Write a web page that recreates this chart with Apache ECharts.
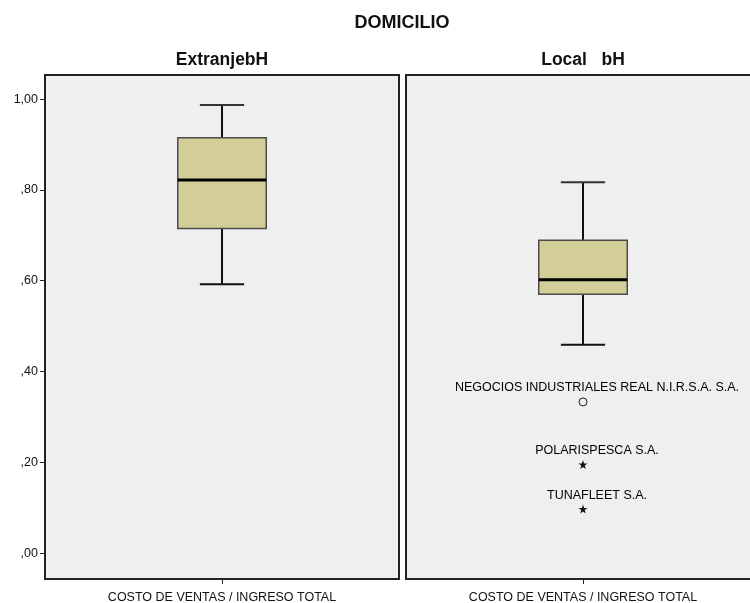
<!DOCTYPE html>
<html>
<head>
<meta charset="utf-8">
<script src="https://cdn.jsdelivr.net/npm/echarts@6/dist/echarts.min.js"></script>
<style>
  html, body { margin: 0; padding: 0; background: #ffffff; }
  #chart { width: 750px; height: 603px; }
</style>
</head>
<body>
<div id="chart"></div>
<script>
// Panel (group) names and the single variable shown in each panel
const panelNames = ['ExtranjebH', 'Local   bH'];
const variableName = ['COSTO DE VENTAS / INGRESO TOTAL'];

// Five-number summaries per panel: [lower whisker, Q1, median, Q3, upper whisker]
const extranjeroStats = [0.592, 0.715, 0.822, 0.915, 0.987];
const localStats = [0.459, 0.570, 0.602, 0.689, 0.817];

// Outlying cases of the Local panel
const outlierNames = ['NEGOCIOS INDUSTRIALES REAL N.I.R.S.A. S.A.', 'POLARISPESCA S.A.', 'TUNAFLEET S.A.'];
const outlierValues = [0.333, 0.195, 0.097];
const outlierKinds = ['outlier', 'extreme', 'extreme'];

// Y-axis tick values
const yTicks = [0, 0.2, 0.4, 0.6, 0.8, 1.0];

const FONT = 'Arial, "Liberation Sans", sans-serif';
const SMALL = 12.5;
const STAR = 'path://M50,0 L61.8,35.5 L100,35.5 L69.1,57.5 L80.9,95 L50,72 L19.1,95 L30.9,57.5 L0,35.5 L38.2,35.5 Z';

const chart = echarts.init(document.getElementById('chart'), null, { renderer: 'canvas' });

function fmtTick(v) {
  const s = v.toFixed(2).replace('.', ',');
  return s.startsWith('0,') ? s.slice(1) : s;
}

function boxRender(params, api) {
  const x = api.value(0);
  const pMin = api.coord([x, api.value(1)]);
  const pQ1 = api.coord([x, api.value(2)]);
  const pMed = api.coord([x, api.value(3)]);
  const pQ3 = api.coord([x, api.value(4)]);
  const pMax = api.coord([x, api.value(5)]);
  const band = api.size([1, 0])[0];
  const bw = band * 0.25;
  const cw = band * 0.125;
  const cx = pMed[0];
  const whisker = { stroke: '#111111', lineWidth: 2 };
  return {
    type: 'group',
    children: [
      { type: 'line', shape: { x1: cx, y1: pMax[1], x2: cx, y2: pQ3[1] }, style: whisker },
      { type: 'line', shape: { x1: cx, y1: pQ1[1], x2: cx, y2: pMin[1] }, style: whisker },
      { type: 'line', shape: { x1: cx - cw / 2, y1: pMax[1], x2: cx + cw / 2, y2: pMax[1] }, style: { stroke: '#333333', lineWidth: 2 } },
      { type: 'line', shape: { x1: cx - cw / 2, y1: pMin[1], x2: cx + cw / 2, y2: pMin[1] }, style: whisker },
      { type: 'rect', shape: { x: cx - bw / 2, y: pQ3[1], width: bw, height: pQ1[1] - pQ3[1] },
        style: { fill: '#d3ce98', stroke: '#4a4a4a', lineWidth: 1.5 } },
      { type: 'line', shape: { x1: cx - bw / 2, y1: pMed[1], x2: cx + bw / 2, y2: pMed[1] }, style: { stroke: '#000000', lineWidth: 3 } }
    ]
  };
}

const yAxisBase = {
  type: 'value',
  min: -0.057,
  max: 1.053,
  splitLine: { show: false },
  axisLine: { show: false }
};

const xAxisBase = {
  type: 'category',
  data: variableName,
  axisLine: { show: false, onZero: false },
  axisTick: { show: true, alignWithLabel: true, length: 5, lineStyle: { color: '#222222', width: 1 } },
  axisLabel: { color: '#111111', fontSize: SMALL, fontFamily: FONT, margin: 12 },
  splitLine: { show: false }
};

const gridBase = {
  top: 75, width: 354, height: 504,
  show: true, backgroundColor: '#efefef', borderColor: '#222222', borderWidth: 2,
  containLabel: false, outerBoundsMode: 'none'
};

const titleFont = 'bold 17.5px ' + FONT;

const option = {
  backgroundColor: '#ffffff',
  animation: false,
  graphic: [
    { type: 'text', x: 402, y: 23, style: { text: 'DOMICILIO', font: 'bold 18px ' + FONT, fill: '#111111', align: 'center', verticalAlign: 'middle' } },
    { type: 'text', x: 222, y: 60, style: { text: panelNames[0], font: titleFont, fill: '#111111', align: 'center', verticalAlign: 'middle' } },
    { type: 'text', x: 583, y: 60, style: { text: panelNames[1], font: titleFont, fill: '#111111', align: 'center', verticalAlign: 'middle' } }
  ],
  grid: [
    Object.assign({ left: 45 }, gridBase),
    Object.assign({ left: 406 }, gridBase)
  ],
  xAxis: [
    Object.assign({ gridIndex: 0 }, xAxisBase),
    Object.assign({ gridIndex: 1 }, xAxisBase)
  ],
  yAxis: [
    Object.assign({ gridIndex: 0 }, yAxisBase, {
      axisTick: { show: true, length: 5, customValues: yTicks, lineStyle: { color: '#222222', width: 1 } },
      axisLabel: { show: true, customValues: yTicks, formatter: fmtTick, color: '#111111', fontSize: SMALL, fontFamily: FONT, margin: 7 }
    }),
    Object.assign({ gridIndex: 1 }, yAxisBase, {
      axisTick: { show: false },
      axisLabel: { show: false }
    })
  ],
  series: [
    {
      type: 'custom',
      xAxisIndex: 0, yAxisIndex: 0,
      renderItem: boxRender,
      encode: { x: 0, y: [1, 2, 3, 4, 5] },
      data: [[0].concat(extranjeroStats)],
      z: 3
    },
    {
      type: 'custom',
      xAxisIndex: 1, yAxisIndex: 1,
      renderItem: boxRender,
      encode: { x: 0, y: [1, 2, 3, 4, 5] },
      data: [[0].concat(localStats)],
      z: 3
    },
    {
      type: 'scatter',
      xAxisIndex: 1, yAxisIndex: 1,
      z: 4,
      data: outlierValues.map((v, i) => ({
        name: outlierNames[i],
        value: [0, v],
        symbol: outlierKinds[i] === 'outlier' ? 'circle' : STAR,
        symbolSize: outlierKinds[i] === 'outlier' ? 8 : 9,
        itemStyle: outlierKinds[i] === 'outlier'
          ? { color: '#efefef', borderColor: '#222222', borderWidth: 1, opacity: 1 }
          : { color: '#111111', borderWidth: 0, opacity: 1 }
      })),
      label: {
        show: true,
        position: 'top',
        distance: 4,
        offset: [14, 1],
        formatter: '{b}',
        color: '#000000',
        fontSize: SMALL,
        fontFamily: FONT
      }
    }
  ]
};

chart.setOption(option);
</script>
</body>
</html>
